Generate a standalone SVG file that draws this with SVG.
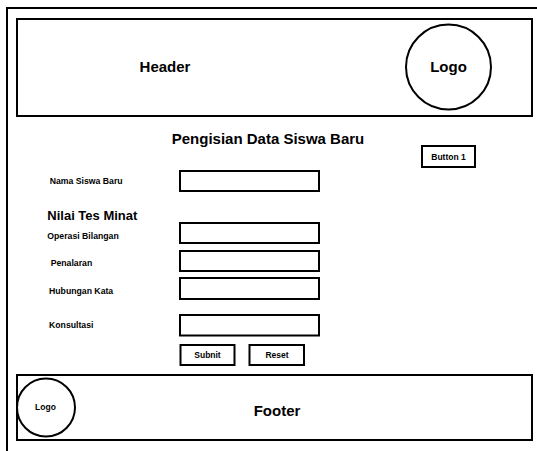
<svg xmlns="http://www.w3.org/2000/svg" width="537" height="451" viewBox="0 0 537 451">
<style>
.box{fill:#fff;stroke:#000;stroke-width:2}
.circ{fill:none;stroke:#000;stroke-width:2}
text{font-family:"Liberation Sans",Arial,sans-serif;font-weight:bold;fill:#000}
.big{font-size:15px}
.lbl{font-size:8.7px}
.btn{font-size:8.5px}
</style>
<rect width="537" height="451" fill="#fff"/>
<g id="frame"><rect x="7" y="8" width="540" height="460" fill="none" stroke="#000" stroke-width="2"/></g>
<g id="header">
<rect class="box" x="17" y="19" width="515" height="97"/>
<text class="big" x="165" y="72" text-anchor="middle">Header</text>
</g>
<g id="logo-header">
<circle class="circ" cx="448.5" cy="67" r="42.5"/>
<text class="big" x="448.5" y="72" text-anchor="middle">Logo</text>
</g>
<g id="title"><text class="big" x="268" y="143.5" text-anchor="middle">Pengisian Data Siswa Baru</text></g>
<g id="button1">
<rect class="box" x="422" y="146" width="53" height="21"/>
<text class="btn" x="448.5" y="159.5" text-anchor="middle">Button 1</text>
</g>
<g id="nama">
<text class="lbl" x="49.7" y="184">Nama Siswa Baru</text>
<rect class="box" x="180" y="171" width="139" height="20"/>
</g>
<g id="nilai"><text x="47.3" y="220" style="font-size:13px">Nilai Tes Minat</text></g>
<g id="operasi">
<text class="lbl" x="47.3" y="239">Operasi Bilangan</text>
<rect class="box" x="180" y="223" width="139" height="20"/>
</g>
<g id="penalaran">
<text class="lbl" x="50.7" y="266">Penalaran</text>
<rect class="box" x="180" y="251" width="139" height="20"/>
</g>
<g id="hubungan">
<text class="lbl" x="49" y="293.5">Hubungan Kata</text>
<rect class="box" x="180" y="278" width="139" height="21"/>
</g>
<g id="konsultasi">
<text class="lbl" x="49" y="328">Konsultasi</text>
<rect class="box" x="180" y="315" width="139" height="20.5"/>
</g>
<g id="submit">
<rect class="box" x="180.5" y="345" width="54" height="20"/>
<text class="btn" x="207.5" y="358" text-anchor="middle">Subnit</text>
</g>
<g id="reset">
<rect class="box" x="249.5" y="345" width="54.5" height="20"/>
<text class="btn" x="277" y="358" text-anchor="middle">Reset</text>
</g>
<g id="footer">
<rect class="box" x="17" y="375" width="515" height="65"/>
<text class="big" x="277" y="416" text-anchor="middle">Footer</text>
</g>
<g id="logo-footer">
<circle class="circ" cx="46" cy="407.5" r="29"/>
<text class="btn" x="45.5" y="410" text-anchor="middle">Logo</text>
</g>
<g id="connectors"/>
</svg>
